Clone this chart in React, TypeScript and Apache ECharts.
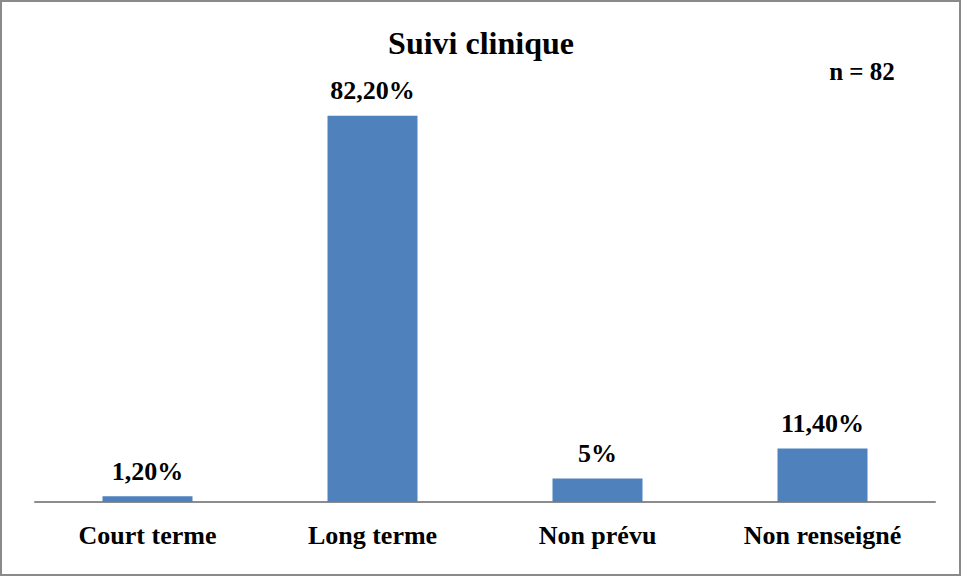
import React, { useEffect, useRef } from "react";
import * as echarts from "echarts";

const categories = ["Court terme", "Long terme", "Non prévu", "Non renseigné"];
const values = [1.2, 82.2, 5, 11.4];
const valueLabels = ["1,20%", "82,20%", "5%", "11,40%"];
const titleText = "Suivi clinique";
const sampleText = "n = 82";

const FONT = "'Liberation Serif', 'Times New Roman', serif";

export default function App() {
  const ref = useRef<HTMLDivElement>(null);
  useEffect(() => {
    if (!ref.current) return;
    const chart = echarts.init(ref.current, null, { renderer: "svg" });
    chart.setOption({
      animation: false,
      backgroundColor: "#ffffff",
      title: {
        text: titleText,
        left: "center",
        top: 22,
        textStyle: { fontFamily: FONT, fontWeight: "bold", fontSize: 32, color: "#000" },
      },
      graphic: [
        {
          type: "rect",
          shape: { x: 1, y: 1, width: 959, height: 574 },
          style: { fill: "none", stroke: "#8a8a8a", lineWidth: 2 },
          silent: true,
        },
        {
          type: "text",
          x: 862,
          y: 71,
          style: {
            text: sampleText,
            fontFamily: FONT,
            fontWeight: "bold",
            fontSize: 25,
            fill: "#000",
            align: "center",
            verticalAlign: "middle",
          },
        },
      ],
      grid: { left: 35, right: 27, top: 79, bottom: 75, containLabel: false },
      xAxis: {
        type: "category",
        data: categories,
        axisLine: { show: true, lineStyle: { color: "#8c8c8c", width: 2 } },
        axisTick: { show: false },
        axisLabel: {
          fontFamily: FONT,
          fontWeight: "bold",
          fontSize: 26,
          color: "#000",
          margin: 20,
          interval: 0,
        },
      },
      yAxis: {
        type: "value",
        min: 0,
        max: 90,
        show: false,
        splitLine: { show: false },
      },
      series: [
        {
          type: "bar",
          data: values.map((v, i) => ({
            value: v,
            label: { formatter: valueLabels[i] },
          })),
          barWidth: "40%",
          itemStyle: { color: "#4F81BD" },
          label: {
            show: true,
            position: "top",
            distance: 12,
            fontFamily: FONT,
            fontWeight: "bold",
            fontSize: 26,
            color: "#000",
          },
        },
      ],
    });
    return () => chart.dispose();
  }, []);
  return (
    <div
      ref={ref}
      style={{ position: "fixed", left: 0, top: 0, width: 962, height: 577 }}
    />
  );
}
